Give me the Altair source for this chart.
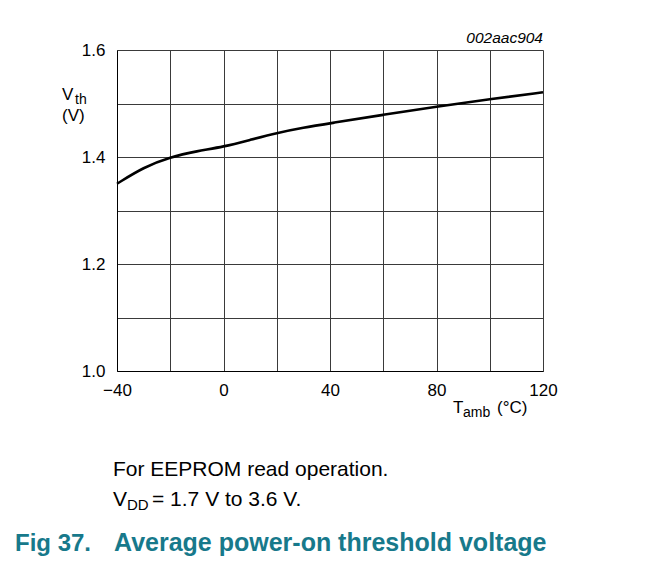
import altair as alt
import pandas as pd

# Data
temps = [-40, -30, -20, -10, 0, 10, 20, 30, 40, 60, 80, 100, 120]
vth = [1.350, 1.381, 1.400, 1.411, 1.419, 1.432, 1.445, 1.455, 1.463, 1.479, 1.494, 1.508, 1.521]

x_grid = [-40, -20, 0, 20, 40, 60, 80, 100, 120]
y_grid = [1.0, 1.1, 1.2, 1.3, 1.4, 1.5, 1.6]

FONT = "Liberation Sans"
TEAL = "#17798b"

df = pd.DataFrame({"T": temps, "V": vth})
one = pd.DataFrame({"a": [0]})

line = alt.Chart(df).mark_line(color="black", strokeWidth=2.6, interpolate="basis").encode(
    x=alt.X("T:Q", scale=alt.Scale(domain=[-40, 120], nice=False),
            axis=alt.Axis(values=x_grid, title=None, grid=True, gridColor="#3a3a3a", gridWidth=1,
                          domainColor="black", ticks=False, labelPadding=11, labelFontSize=17,
                          labelFont=FONT, labelColor="black", labelFlush=False, labelOverlap=False,
                          labelExpr="datum.value % 40 == 0 ? datum.label : ''")),
    y=alt.Y("V:Q", scale=alt.Scale(domain=[1.0, 1.6], nice=False, zero=False),
            axis=alt.Axis(values=y_grid, title=None, grid=True, gridColor="#3a3a3a", gridWidth=1,
                          domainColor="black", ticks=False, labelPadding=12, labelFontSize=17,
                          labelFont=FONT, labelColor="black", labelFlush=False, labelOverlap=False,
                          labelExpr="round(datum.value*10) % 2 == 0 ? format(datum.value, '.1f') : ''")),
)


def txt(s, x, y, size, align="left", bold=False, italic=False, color="black"):
    kw = dict(text=s, align=align, baseline="alphabetic", fontSize=size, font=FONT, color=color)
    if bold:
        kw["fontWeight"] = "bold"
    if italic:
        kw["fontStyle"] = "italic"
    return alt.Chart(one).mark_text(**kw).encode(x=alt.value(x), y=alt.value(y))


texts = [
    txt("002aac904", 426, -7, 15.5, align="right", italic=True),
    txt("V", -55, 50, 17),
    txt("th", -42, 54, 14),
    txt("(V)", -55, 71, 17),
    txt("T", 336, 363, 17),
    txt("amb", 346, 367, 14),
    txt("(°C)", 380, 363, 17),
    txt("For EEPROM read operation.", -4, 426, 21),
    txt("V", -4, 456, 21),
    txt("DD", 10, 460, 15),
    txt("= 1.7 V to 3.6 V.", 35, 456, 21),
    txt("Fig 37.", -102, 501, 24, bold=True, color=TEAL),
    txt("Average power-on threshold voltage", -3, 501, 25, bold=True, color=TEAL),
]

chart = alt.layer(line, *texts).properties(
    width=426, height=321,
    autosize=alt.AutoSizeParams(type="none"),
    padding={"left": 109, "top": 42, "right": 109, "bottom": 188},
).configure_view(stroke="black", strokeWidth=1).configure(background="white")

chart.save("out.html", embed_options={"renderer": "svg", "actions": False})
